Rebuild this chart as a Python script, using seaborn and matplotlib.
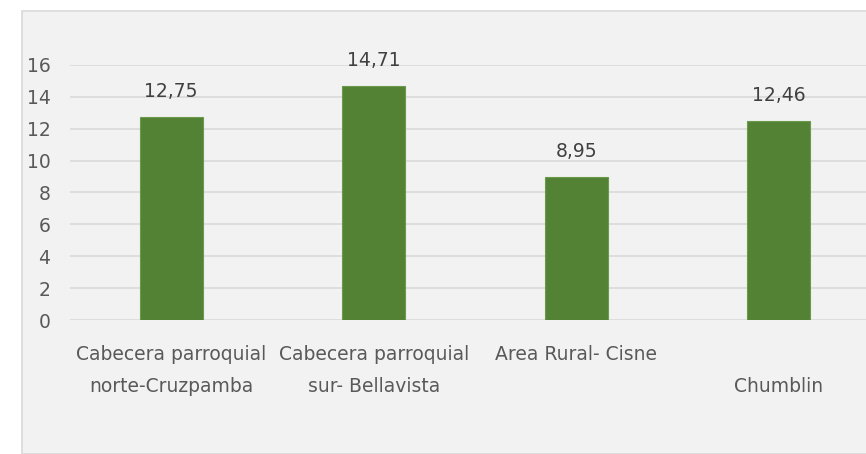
import matplotlib
matplotlib.use("Agg")
import matplotlib.pyplot as plt
import seaborn as sns
import pandas as pd
from matplotlib.patches import Rectangle

categories = ["Cabecera parroquial\nnorte-Cruzpamba", "Cabecera parroquial\nsur- Bellavista",
              "Area Rural- Cisne\n", "\nChumblin"]
values = [12.75, 14.71, 8.95, 12.46]
value_labels = ["12,75", "14,71", "8,95", "12,46"]
yticks = [0, 2, 4, 6, 8, 10, 12, 14, 16]

sns.set_theme(style="white")
plt.rcParams['font.family'] = ['Liberation Sans Narrow', 'DejaVu Sans']

W, H = 866, 454
fig = plt.figure(figsize=(W / 100, H / 100), dpi=100)
fig.patch.set_facecolor("white")
bg = Rectangle((22 / W, 0), 1 - 22 / W + 0.01, (H - 11) / H, transform=fig.transFigure,
               facecolor="#f2f2f2", edgecolor="#d9d9d9", linewidth=1.2, zorder=0)
fig.patches.append(bg)

left, right = 70 / W, 880 / W
bottom, top = (H - 320) / H, (H - 65) / H
ax = fig.add_axes([left, bottom, right - left, top - bottom])
ax.set_zorder(5)
ax.set_facecolor("none")

df = pd.DataFrame({"cat": categories, "val": values})
sns.barplot(data=df, x="cat", y="val", color="#548235", width=0.31, ax=ax,
            saturation=1, edgecolor="#6a9a4a", linewidth=0.8, zorder=3)

ax.set_ylim(0, 16)
ax.set_yticks(yticks)
ax.set_xlim(-0.5, 3.5)
ax.yaxis.grid(True, color="#d9d9d9", linewidth=1.2, zorder=0)
ax.set_axisbelow(True)
for s in ax.spines.values():
    s.set_visible(False)
ax.tick_params(axis="both", length=0, colors="#595959", labelsize=13.5)
ax.tick_params(axis="y", pad=14)
ax.tick_params(axis="x", pad=18)
for lbl in ax.get_xticklabels():
    lbl.set_linespacing(1.9)
ax.set_xlabel("")
ax.set_ylabel("")

for i, (v, t) in enumerate(zip(values, value_labels)):
    ax.text(i, v + 1.0, t, ha="center", va="bottom", fontsize=13.5, color="#404040", clip_on=False)

fig.savefig("out.png", dpi=100)
